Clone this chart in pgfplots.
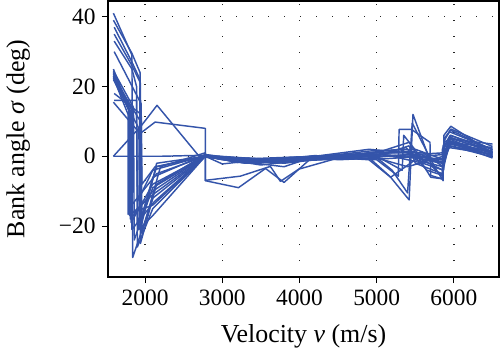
\documentclass[border=0pt]{standalone}
\usepackage{fontspec}
\setmainfont{Liberation Serif}
\usepackage{pgfplots}
\pgfplotsset{compat=1.18}
\definecolor{traj}{RGB}{52,84,170}
\tikzset{tr/.style={color=traj, solid, mark=none, line width=1.45bp, line join=round}}
\begin{document}
\begin{tikzpicture}
\begin{axis}[
  scale only axis,
  width=391bp, height=276bp,
  xmin=1520, xmax=6584,
  ymin=-34.6, ymax=44.5,
  xtick={2000,3000,4000,5000,6000},
  ytick={-20,0,20,40},
  yticklabels={−20,0,20,40},
  /pgf/number format/assume math mode=true,
  /pgf/number format/1000 sep={},
  tick pos=left,
  tick align=outside,
  major tick length=6bp,
  tick style={black, line width=1.1bp},
  axis line style={line width=1.2bp},
  grid=major,
  major grid style={black!85, line width=1.35bp, dash pattern=on 1.35bp off 14.65bp},
  tick label style={font=\fontsize{23.5}{26}\selectfont},
  xticklabel style={yshift=-3bp},
  yticklabel style={xshift=-3bp},
  label style={font=\fontsize{26}{30}\selectfont},
  xlabel={Velocity \textit{v} (m/s)},
  ylabel={Bank angle \textit{σ} (deg)},
  xlabel style={at={(axis description cs:0.5,-0.215)}, anchor=center},
  ylabel style={at={(axis description cs:-0.23,0.5)}, anchor=center},
]
% T1
\addplot[tr] coordinates {(6500,3.5) (5950,5) (5870,4) (5860,-6) (5720,-3) (5470,12) (5420,-12.5) (5180,-6) (4900,-1) (4200,0) (3800,-1) (3300,-0.5) (2780,0) (2100,-12) (1840,-29) (1830,29) (1590,41)};
% T2
\addplot[tr] coordinates {(6500,2.5) (5940,4) (5860,3) (5850,-6.5) (5700,-5.5) (5690,4) (5450,7.7) (5290,7.7) (5280,-5.7) (5000,-1) (4600,-0.5) (4200,0) (3600,-1.5) (3000,-0.5) (2780,0.5) (2150,-8) (1940,-25) (1935,24) (1830,29.5) (1590,39)};
% T3
\addplot[tr] coordinates {(6500,1) (5960,8.6) (5870,6) (5860,-7) (5750,-3) (5460,9.5) (5400,-10.5) (5200,-4) (4950,0.5) (4500,0) (4000,-1) (3400,-1.5) (2780,0) (2100,-17) (1920,-21) (1935,22) (1830,27) (1600,37)};
% T4
\addplot[tr] coordinates {(6500,0.5) (5950,3) (5850,-2) (5600,-1) (5350,6) (5330,-4) (5000,0) (4400,-0.5) (3800,-2) (3300,-1) (2780,0.5) (2100,-6) (1950,-18) (1940,21) (1830,26) (1600,35)};
% T5
\addplot[tr] coordinates {(6500,0) (5940,5) (5860,-3) (5600,1) (5000,1) (4200,0) (3600,-1) (2780,0) (2100,-11) (1800,-17) (1800,13) (1590,25)};
% T6
\addplot[tr] coordinates {(6500,-0.5) (5930,4) (5870,-1) (5500,2) (4900,1.5) (4200,-0.3) (3700,-2) (2780,0) (2150,-5) (1790,-15) (1790,14) (1590,24)};
% T7
\addplot[tr] coordinates {(6500,2) (5950,6) (5850,2) (5850,-5) (5500,-2) (5420,3) (5000,0) (4300,-0.5) (3500,-2.5) (2780,0) (2100,-8) (1820,-19) (1810,13) (1590,23.5)};
% T8
\addplot[tr] coordinates {(6500,1.5) (5920,3.5) (5860,0) (5400,-3) (5000,-0.5) (4500,-1) (4180,0) (3800,-7.5) (3560,-3.5) (3210,-9) (2780,-7) (2780,8) (2130,9.8) (1935,6.5) (1590,15.5)};
% T9
\addplot[tr] coordinates {(6500,0.8) (5940,4.5) (5850,-2) (5420,1) (4900,2) (4200,0) (3800,-3) (2700,0) (2155,14.6) (1960,9) (1590,0)};
% T10
\addplot[tr] coordinates {(6500,1.2) (5960,6) (5860,-4) (5300,2) (4880,1) (4500,-0.5) (3990,-3.7) (3753,-7.2) (3623,-2.9) (3234,-5.7) (2780,-6.9) (2780,1) (2200,-3) (1960,-22) (1950,15) (1600,30)};
% T11
\addplot[tr] coordinates {(6500,0.3) (5950,4) (5870,1) (5500,0.5) (5000,0) (4200,-0.2) (3500,-0.8) (2780,0.3) (2200,0) (1590,0)};
% T12
\addplot[tr] coordinates {(6500,-0.2) (5940,3) (5860,-1) (5400,0.5) (4900,-0.5) (4300,-1) (3300,-2) (2780,0) (2130,-3) (1960,-8) (1950,12) (1600,18)};
% T13
\addplot[tr] coordinates {(6500,1) (5950,5.5) (5855,-1) (5450,0) (5000,0.5) (4400,-0.8) (3300,-2) (2780,0) (2100,-14) (1780,-16.6) (1780,12) (1590,22.5)};
% T14
\addplot[tr] coordinates {(6500,2) (5945,7) (5870,5) (5860,-6.5) (5700,-6) (5420,4) (5000,1) (4200,0) (3000,-1) (2780,0) (2150,-3) (1930,-19) (1920,8) (1590,22)};
% T15
\addplot[tr] coordinates {(6500,0.6) (5935,2.5) (5860,-3) (5500,-1) (5182,-6) (4880,0) (4200,-0.3) (3700,-1.5) (2780,0) (2100,-9) (1860,-24) (1850,14) (1590,24.5)};
% T16
\addplot[tr] coordinates {(6500,1.8) (5955,7.5) (5880,5) (5870,-2) (5450,1.5) (4950,0.5) (4200,0) (3400,-1.2) (2780,0.2) (2100,-4) (1900,-13) (1890,16) (1600,16)};
% T17
\addplot[tr] coordinates {(6500,0.9) (5945,4.2) (5860,0.5) (5600,0) (5050,-0.8) (4500,-0.3) (4200,0.2) (3900,-0.6) (3200,-1.8) (2780,0.1) (2100,-10) (1810,-18) (1800,12.5) (1590,23)};
% T18
\addplot[tr] coordinates {(6500,1.4) (5950,5.2) (5865,2) (5865,-4) (5600,-2) (5100,0.5) (4700,0.2) (4200,-0.1) (3600,-0.9) (2780,0) (2120,-13) (1830,-21) (1820,13.5) (1590,24)};
% T19
\addplot[tr] coordinates {(6500,0.2) (5940,3.8) (5860,-1.5) (5300,0) (4900,0.8) (4400,0) (3900,-1.5) (3100,-1.3) (2780,0) (2100,-15) (1900,-26) (1890,20) (1830,25) (1600,33)};
% T20
\addplot[tr] coordinates {(6500,2.8) (5960,7.8) (5875,4.5) (5860,-5.5) (5650,-4) (5380,2.5) (5000,0.3) (4600,-0.8) (4200,0) (3700,-0.5) (3000,-2.2) (2780,0) (2150,-2) (1950,-20) (1940,10) (1590,22.8)};
\end{axis}
\pgfresetboundingbox
\useasboundingbox (-108bp,-84bp) rectangle (392bp,277bp);
\end{tikzpicture}
\end{document}
